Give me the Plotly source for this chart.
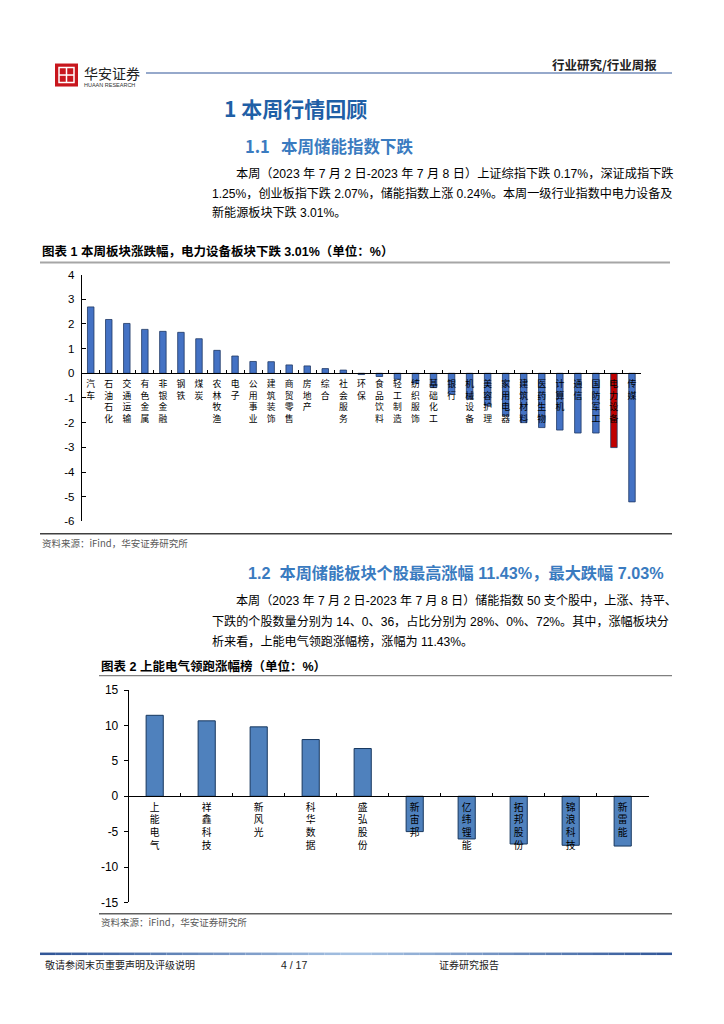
import plotly.graph_objects as go

W, H = 724, 1024

# ---------------- data ----------------
sectors = ["汽车", "石油石化", "交通运输", "有色金属", "非银金融", "钢铁", "煤炭", "农林牧渔",
           "电子", "公用事业", "建筑装饰", "商贸零售", "房地产", "综合", "社会服务", "环保",
           "食品饮料", "轻工制造", "纺织服饰", "基础化工", "银行", "机械设备", "美容护理",
           "家用电器", "建筑材料", "医药生物", "计算机", "通信", "国防军工", "电力设备", "传媒"]
sector_chg = [2.69, 2.18, 2.02, 1.78, 1.70, 1.66, 1.40, 0.93,
              0.70, 0.48, 0.47, 0.34, 0.30, 0.19, 0.13, -0.05,
              -0.13, -0.24, -0.40, -0.58, -0.85, -1.05, -1.30,
              -1.72, -2.00, -2.20, -2.30, -2.42, -2.42, -3.01, -5.21]
highlight_sector = "电力设备"

stocks = ["上能电气", "祥鑫科技", "新风光", "科华数据", "盛弘股份",
          "新宙邦", "亿纬锂能", "拓邦股份", "锦浪科技", "新雷能"]
stock_chg = [11.43, 10.65, 9.80, 8.01, 6.74, -4.99, -6.03, -6.74, -6.92, -7.03]

y1_ticks = [4, 3, 2, 1, 0, -1, -2, -3, -4, -5, -6]
y2_ticks = [15, 10, 5, 0, -5, -10, -15]

# ---------------- helpers ----------------
Y_SCALE, Y_OFF = 0.986, 6.5   # compensation for page capture


def px(x):
    return x / W


def py(y):
    return 1 - ((y - Y_OFF) / Y_SCALE) / H


def vert(s):
    return "<br>".join(list(s))


CJK = "Noto Sans CJK SC"
SANS = "Liberation Sans, Noto Sans CJK SC"

fig = go.Figure()

# chart 1
c1 = ["#C00000" if s == highlight_sector else "#4472C4" for s in sectors]
fig.add_trace(go.Bar(
    x=sectors, y=sector_chg, width=0.36,
    marker=dict(color=c1, line=dict(color="#1F3864", width=0.8)),
    xaxis="x", yaxis="y", showlegend=False))

# chart 2
fig.add_trace(go.Bar(
    x=stocks, y=stock_chg, width=0.33,
    marker=dict(color="#4F81BD", line=dict(color="#17375E", width=1)),
    xaxis="x2", yaxis="y2", showlegend=False))

axis_common = dict(showgrid=False, zeroline=False, showline=True, linecolor="#000000",
                   linewidth=1)

fig.update_layout(
    width=W, height=H, margin=dict(l=0, r=0, t=0, b=0),
    paper_bgcolor="white", plot_bgcolor="rgba(0,0,0,0)",
    font=dict(family=SANS, color="#000000"),
    xaxis=dict(**axis_common, domain=[px(81.7), px(641)], anchor="free", position=py(372.3),
               type="category", tickson="boundaries", ticks="inside", ticklen=3,
               tickcolor="#000000", tickangle=0,
               tickmode="array", tickvals=sectors, ticktext=[vert(s) for s in sectors],
               tickfont=dict(family=CJK, size=8.8, color="#000000"), ticklabelstandoff=3),
    yaxis=dict(**axis_common, domain=[py(520.7), py(274)], range=[-6, 4],
               tickmode="array", tickvals=y1_ticks, ticktext=[str(v) for v in y1_ticks],
               ticks="inside", ticklen=4, tickcolor="#000000",
               tickfont=dict(family=SANS, size=11.5, color="#000000"), ticklabelstandoff=4),
    xaxis2=dict(**axis_common, domain=[px(128.7), px(648.7)], anchor="free", position=py(795),
                type="category", tickson="boundaries", ticks="inside", ticklen=3,
                tickcolor="#000000", tickangle=0,
                tickmode="array", tickvals=stocks, ticktext=[vert(s) for s in stocks],
                tickfont=dict(family=CJK, size=9.8, color="#000000"), ticklabelstandoff=2),
    yaxis2=dict(**axis_common, domain=[py(901.7), py(689.3)], range=[-15, 15],
                tickmode="array", tickvals=y2_ticks, ticktext=[str(v) for v in y2_ticks],
                ticks="outside", ticklen=4, tickcolor="#000000", anchor="x2",
                tickfont=dict(family=SANS, size=12, color="#000000"), ticklabelstandoff=3),
)

shapes = []
annotations = []


def hline(x0, x1, y, color, width):
    shapes.append(dict(type="line", xref="paper", yref="paper",
                       x0=px(x0), x1=px(x1), y0=py(y), y1=py(y),
                       line=dict(color=color, width=width)))


def text(x, y, s, size, color="#000000", family=SANS, xanchor="left", bold=False):
    if bold:
        s = "<b>" + s + "</b>"
    annotations.append(dict(x=px(x), y=py(y), xref="paper", yref="paper", text=s,
                            showarrow=False, xanchor=xanchor, yanchor="middle",
                            font=dict(size=size, color=color, family=family)))


# ---- header ----
shapes.append(dict(type="rect", xref="paper", yref="paper", x0=px(55), x1=px(78),
                   y0=py(86), y1=py(63), fillcolor="#C8161D", line=dict(width=0)))
shapes.append(dict(type="rect", xref="paper", yref="paper", x0=px(59), x1=px(74),
                   y0=py(82), y1=py(67), fillcolor="rgba(0,0,0,0)",
                   line=dict(color="white", width=1.5)))
shapes.append(dict(type="line", xref="paper", yref="paper", x0=px(66.5), x1=px(66.5),
                   y0=py(82), y1=py(67), line=dict(color="white", width=1.5)))
shapes.append(dict(type="line", xref="paper", yref="paper", x0=px(59), x1=px(74),
                   y0=py(74.5), y1=py(74.5), line=dict(color="white", width=1.5)))
text(82, 72, "华安证券", 14, "#222222", CJK)
text(82, 84, "HUAAN RESEARCH", 5.5, "#333333", SANS)
hline(146, 672, 72.5, "#2F5597", 1.2)
text(659, 64, "行业研究/行业周报", 12.5, "#222222", CJK, xanchor="right", bold=True)

# ---- section 1 ----
text(222, 107, "1 本周行情回顾", 21, "#1F5FA6", CJK, bold=True)
text(243, 145, "1.1&nbsp;&nbsp;&nbsp;本周储能指数下跌", 16.5, "#3A7BC0", CJK, bold=True)
text(234, 173, "本周（2023 年 7 月 2 日-2023 年 7 月 8 日）上证综指下跌 0.17%，深证成指下跌", 12.2)
text(210, 193, "1.25%，创业板指下跌 2.07%，储能指数上涨 0.24%。本周一级行业指数中电力设备及", 12.1)
text(210, 212, "新能源板块下跌 3.01%。", 12.1)

# ---- chart 1 frame ----
text(40, 251, "图表 1 本周板块涨跌幅，电力设备板块下跌 3.01%（单位：%）", 12.5, "#000000", SANS, bold=True)
hline(40, 670, 262, "#A6A6A6", 2)
hline(40, 672, 533, "#404040", 1.5)
text(40, 542, "资料来源：iFind，华安证券研究所", 9.5, "#595959", CJK)

# ---- section 1.2 ----
text(246, 572, "1.2&nbsp;&nbsp;本周储能板块个股最高涨幅 11.43%，最大跌幅 7.03%", 16.2, "#3A7BC0", SANS, bold=True)
text(234, 600, "本周（2023 年 7 月 2 日-2023 年 7 月 8 日）储能指数 50 支个股中，上涨、持平、", 12.1)
text(210, 621, "下跌的个股数量分别为 14、0、36，占比分别为 28%、0%、72%。其中，涨幅板块分", 12.1)
text(210, 641, "析来看，上能电气领跑涨幅榜，涨幅为 11.43%。", 12.1)

# ---- chart 2 frame ----
text(99, 666, "图表 2 上能电气领跑涨幅榜（单位：%）", 12.5, "#000000", SANS, bold=True)
hline(99, 672, 675, "#808080", 1.2)
hline(99, 672, 913, "#606060", 1.5)
text(99, 921, "资料来源：iFind，华安证券研究所", 9.5, "#595959", CJK)

# ---- footer ----
n = 40
for i in range(n):
    t = abs((i + 0.5) / n - 0.5) * 2
    r = int(169 + (47 - 169) * t)
    g = int(196 + (85 - 196) * t)
    b = int(228 + (151 - 228) * t)
    x0 = 40 + (672 - 40) * i / n
    x1 = 40 + (672 - 40) * (i + 1) / n
    hline(x0, x1, 953, f"rgb({r},{g},{b})", 2.5)
text(43, 964, "敬请参阅末页重要声明及评级说明", 10, "#222222", CJK)
text(294, 964, "4 / 17", 10.5, "#222222", SANS, xanchor="center")
text(437, 964, "证券研究报告", 10, "#222222", CJK)

fig.update_layout(shapes=shapes, annotations=annotations)

fig.write_html("out.html", config={"displayModeBar": False},
               post_script="document.body.style.margin='0';document.body.style.overflow='hidden';")
